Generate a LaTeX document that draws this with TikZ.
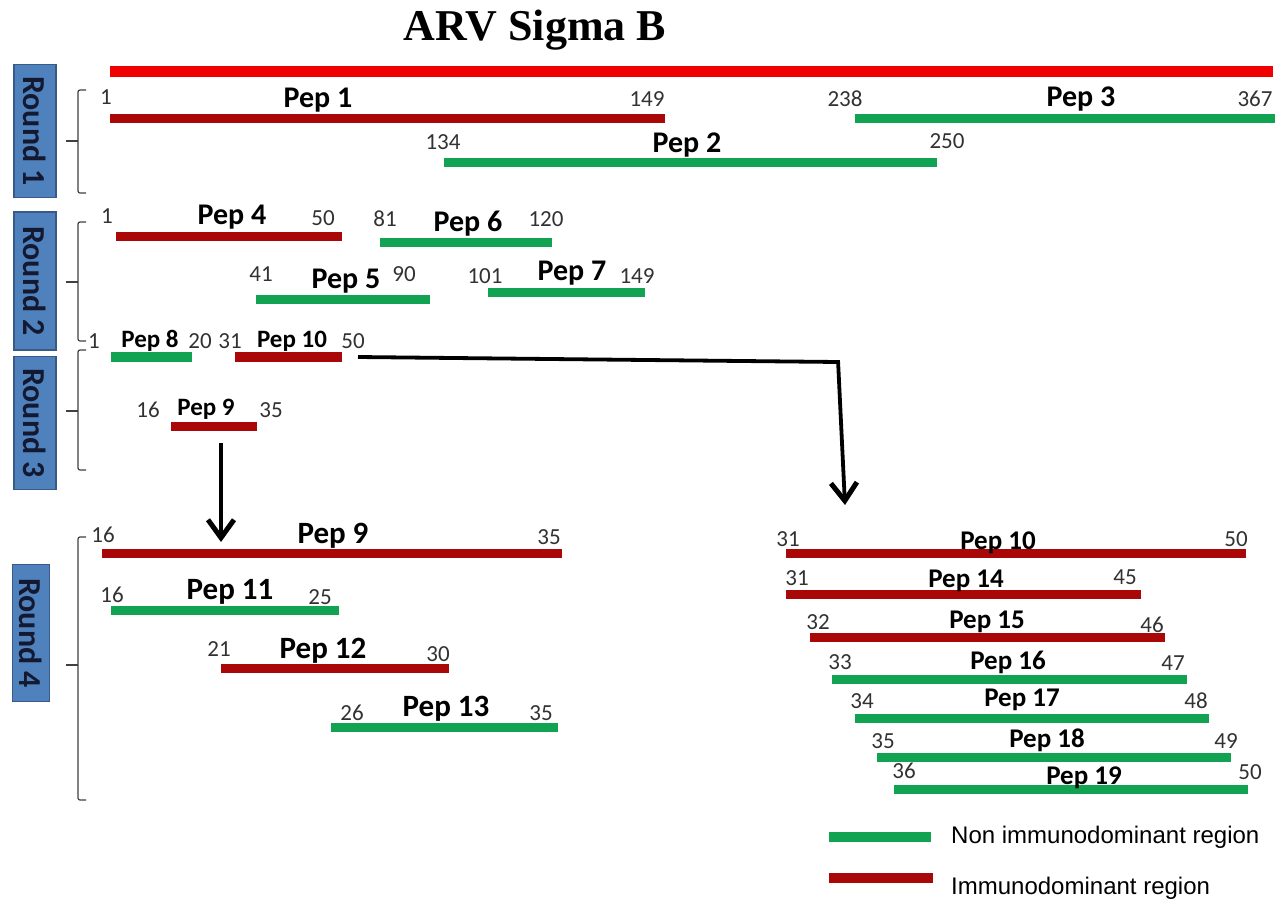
\documentclass[tikz,border=0pt]{standalone}
\usepackage{fontspec}
\setmainfont{Carlito}
\newfontfamily\legendfont{Liberation Sans}
\newfontfamily\titlefont{Liberation Serif}
\usetikzlibrary{arrows.meta}
\definecolor{pgreen}{RGB}{18,163,82}
\definecolor{pred}{RGB}{170,8,8}
\definecolor{tred}{RGB}{240,0,0}
\definecolor{rbox}{RGB}{79,129,189}
\definecolor{rboxb}{RGB}{55,90,135}
\definecolor{numc}{RGB}{50,50,50}
\definecolor{rtext}{RGB}{20,25,50}
\begin{document}
\begin{tikzpicture}[x=1pt,y=-1pt,
  bar/.style={line width=9pt},
  gbar/.style={bar, draw=pgreen},
  rbar/.style={bar, draw=pred},
  num/.style={font=\fontsize{23}{25}\selectfont, text=numc, inner sep=0pt},
  pep/.style={font=\bfseries\fontsize{30}{32}\selectfont, inner sep=0pt},
  pepr/.style={font=\bfseries\fontsize{27}{29}\selectfont, inner sep=0pt},
  pepl/.style={font=\bfseries\fontsize{31}{33}\selectfont, inner sep=0pt},
  peps/.style={font=\bfseries\fontsize{25}{27}\selectfont, inner sep=0pt},
  roundbox/.style={draw=rboxb, fill=rbox, line width=1.2pt, rotate=-90,
    font=\bfseries\fontsize{32}{34}\selectfont, text=rtext, inner sep=0pt},
  brace/.style={draw=black!75, line width=1.2pt, rounded corners=2pt},
  arr/.style={line width=3.8pt, -{Straight Barb[length=18pt,width=26pt,line width=5pt]}},
  legend/.style={font=\legendfont\fontsize{24}{26}\selectfont, inner sep=0pt}
]
\useasboundingbox (0,0) rectangle (1279,905);
\fill[white] (0,0) rectangle (1279,905);

% title and full-length bar
\node[font=\titlefont\bfseries\fontsize{44}{48}\selectfont] (title) at (535,30) {ARV Sigma B};
\draw[line width=11pt, draw=tred] (110,71) -- (1273,71);

% round boxes
\node[roundbox, minimum width=133pt, minimum height=42pt] (r1) at (35,131) {Round 1};
\node[roundbox, minimum width=138pt, minimum height=42pt] (r2) at (35,281) {Round 2};
\node[roundbox, minimum width=133pt, minimum height=42pt] (r3) at (35,423) {Round 3};
\node[roundbox, minimum width=137pt, minimum height=37pt] (r4) at (31,633) {Round 4};

% braces
\newcommand\roundbrace[3]{%
  \draw[brace] (86,#1) -- (78,#1) -- (78,#3) -- (86,#3);
  \draw[brace] (78,#2) -- (66,#2);}
\roundbrace{90}{141}{193}
\roundbrace{222}{282}{341}
\roundbrace{350}{411}{470}
\roundbrace{537}{665}{800}

% Round 1
\draw[rbar] (110,118) -- (665,118);
\node[num] (n1s) at (106,97) {1};
\node[pep] (l1) at (318,100) {Pep 1};
\node[num] (n1e) at (647,99) {149};
\draw[gbar] (855,118) -- (1275,118);
\node[num] (n3s) at (845,99) {238};
\node[pep] (l3) at (1081,99) {Pep 3};
\node[num] (n3e) at (1255,99) {367};
\draw[gbar] (444,162) -- (937,162);
\node[num] (n2s) at (443,142) {134};
\node[pep] (l2) at (687,145) {Pep 2};
\node[num] (n2e) at (947,141) {250};

% Round 2
\draw[rbar] (116,236) -- (342,236);
\node[num] (n4s) at (107,216) {1};
\node[pep] (l4) at (232,217) {Pep 4};
\node[num] (n4e) at (323,218) {50};
\draw[gbar] (380,242) -- (552,242);
\node[num] (n6s) at (385,219) {81};
\node[pep] (l6) at (468,224) {Pep 6};
\node[num] (n6e) at (546,219) {120};
\draw[gbar] (256,299) -- (430,299);
\node[num] (n5s) at (261,274) {41};
\node[pep] (l5) at (346,281) {Pep 5};
\node[num] (n5e) at (404,274) {90};
\draw[gbar] (488,292) -- (645,292);
\node[num] (n7s) at (485,276) {101};
\node[pep] (l7) at (572,273) {Pep 7};
\node[num] (n7e) at (637,276) {149};

% Round 3
\draw[gbar, line width=10pt] (111,357) -- (192,357);
\node[num] (n8s) at (94,341) {1};
\node[peps] (l8) at (150,341) {Pep 8};
\node[num] (n8e) at (200,341) {20};
\draw[rbar, line width=10pt] (235,357) -- (342,357);
\node[num] (n10s) at (230,341) {31};
\node[peps] (l10) at (292,341) {Pep 10};
\node[num] (n10e) at (353,341) {50};
\draw[rbar] (171,426) -- (257,426);
\node[num] (n9s) at (148,410) {16};
\node[peps] (l9) at (206,409) {Pep 9};
\node[num] (n9e) at (271,410) {35};

% arrows
\coordinate (a1s) at (221,443);
\coordinate (a1e) at (221,542);
\draw[arr] (a1s) -- (a1e);
\coordinate (a2s) at (358,357);
\coordinate (a2k) at (838,362);
\coordinate (a2e) at (845,505);
\draw[line width=3.8pt] (a2s) -- (a2k);
\draw[arr] ([yshift=1.9pt]a2k) -- (a2e);

% Round 4 left
\draw[rbar] (102,553) -- (562,553);
\node[num] (m9s) at (103,535) {16};
\node[pepl] (k9) at (333,536) {Pep 9};
\node[num] (m9e) at (549,537) {35};
\draw[gbar] (111,610) -- (339,610);
\node[num] (m11s) at (112,595) {16};
\node[pepl] (k11) at (230,592) {Pep 11};
\node[num] (m11e) at (320,597) {25};
\draw[rbar] (221,668) -- (449,668);
\node[num] (m12s) at (219,649) {21};
\node[pepl] (k12) at (323,651) {Pep 12};
\node[num] (m12e) at (438,654) {30};
\draw[gbar] (331,727) -- (558,727);
\node[num] (m13s) at (352,713) {26};
\node[pepl] (k13) at (446,709) {Pep 13};
\node[num] (m13e) at (541,713) {35};

% Round 4 right
\draw[rbar] (786,553) -- (1246,553);
\node[num] (q10s) at (788,539) {31};
\node[pepr] (j10) at (998,543) {Pep 10};
\node[num] (q10e) at (1236,539) {50};
\draw[rbar] (786,594) -- (1141,594);
\node[num] (q14s) at (797,578) {31};
\node[pepr] (j14) at (966,581) {Pep 14};
\node[num] (q14e) at (1125,577) {45};
\draw[rbar] (810,637) -- (1165,637);
\node[num] (q15s) at (818,622) {32};
\node[pepr] (j15) at (987,622) {Pep 15};
\node[num] (q15e) at (1152,625) {46};
\draw[gbar] (832,679) -- (1187,679);
\node[num] (q16s) at (840,662) {33};
\node[pepr] (j16) at (1008,662) {Pep 16};
\node[num] (q16e) at (1173,663) {47};
\draw[gbar] (855,718) -- (1209,718);
\node[num] (q17s) at (862,701) {34};
\node[pepr] (j17) at (1022,700) {Pep 17};
\node[num] (q17e) at (1196,701) {48};
\draw[gbar] (877,757) -- (1231,757);
\node[num] (q18s) at (883,741) {35};
\node[pepr] (j18) at (1047,740) {Pep 18};
\node[num] (q18e) at (1226,741) {49};
\draw[gbar] (894,789) -- (1248,789);
\node[num] (q19s) at (904,771) {36};
\node[pepr] (j19) at (1084,778) {Pep 19};
\node[num] (q19e) at (1250,772) {50};

% legend
\draw[gbar, line width=10pt] (829,837) -- (931,837);
\node[legend, anchor=west] (lg1) at (951,837) {Non immunodominant region};
\draw[rbar, line width=10pt] (829,878) -- (933,878);
\node[legend, anchor=west] (lg2) at (951,888) {Immunodominant region};
\end{tikzpicture}
\end{document}
